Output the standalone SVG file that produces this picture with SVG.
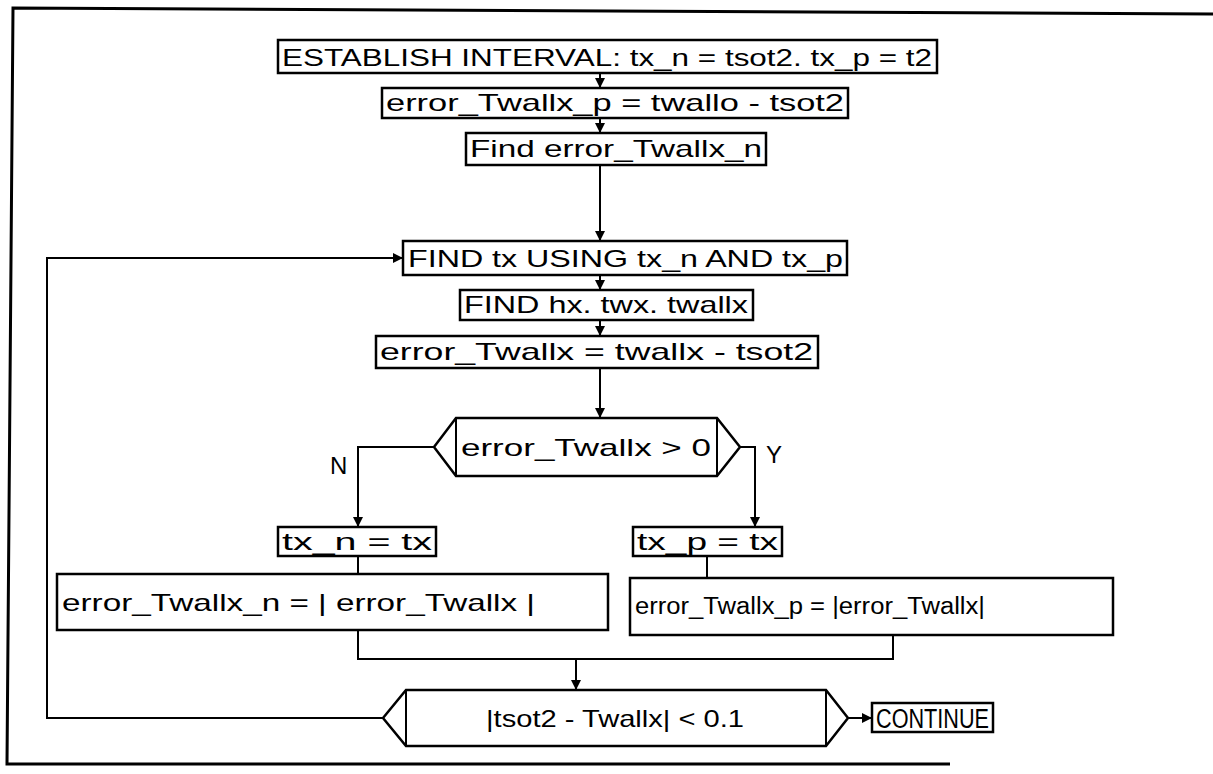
<svg xmlns="http://www.w3.org/2000/svg" width="1213" height="774" viewBox="0 0 1213 774">
<style>
.b{fill:#fff;stroke:#000;stroke-width:2.5}
.c{fill:none;stroke:#000;stroke-width:2}
.t{font-family:"Liberation Sans",Arial,sans-serif;font-size:24px;fill:#000}
.s{font-size:23px}
.l{font-size:27px}
</style>
<defs>
<marker id="a" viewBox="0 0 10 10" refX="10" refY="5" markerWidth="10" markerHeight="10" markerUnits="userSpaceOnUse" orient="auto"><path d="M0,0 L10,5 L0,10 Z" fill="#000"/></marker>
</defs>
<rect width="1213" height="774" fill="#fff"/>
<g id="frame"><polyline class="c" style="stroke-width:3" points="1213,14 13,8 7,764 950,764"/></g>
<g id="connectors">
<line class="c" x1="600" y1="73" x2="600" y2="88" marker-end="url(#a)"/>
<line class="c" x1="600" y1="118" x2="600" y2="133" marker-end="url(#a)"/>
<line class="c" x1="600" y1="165" x2="600" y2="241" marker-end="url(#a)"/>
<line class="c" x1="600" y1="275" x2="600" y2="290" marker-end="url(#a)"/>
<line class="c" x1="600" y1="320" x2="600" y2="336" marker-end="url(#a)"/>
<line class="c" x1="600" y1="368" x2="600" y2="418" marker-end="url(#a)"/>
<polyline class="c" points="434,447 358,447 358,527" marker-end="url(#a)"/>
<polyline class="c" points="740,447 755,447 755,527" marker-end="url(#a)"/>
<line class="c" x1="358" y1="556" x2="358" y2="574"/>
<line class="c" x1="707" y1="556" x2="707" y2="578"/>
<polyline class="c" points="358,630 358,659 893,659 893,635"/>
<line class="c" x1="576" y1="659" x2="576" y2="690" marker-end="url(#a)"/>
<polyline class="c" points="383,718 47,718 47,258 403,258" marker-end="url(#a)"/>
<line class="c" x1="848" y1="718" x2="872" y2="718" marker-end="url(#a)"/>
</g>
<g id="n1"><rect class="b" x="278" y="40" width="659" height="33"/><text class="t" x="282" y="66" textLength="650" lengthAdjust="spacingAndGlyphs">ESTABLISH INTERVAL: tx_n = tsot2. tx_p = t2</text></g>
<g id="n2"><rect class="b" x="382" y="88" width="466" height="30"/><text class="t" x="386" y="111" textLength="458" lengthAdjust="spacingAndGlyphs">error_Twallx_p = twallo - tsot2</text></g>
<g id="n3"><rect class="b" x="466" y="133" width="300" height="32"/><text class="t" x="470" y="157" textLength="292" lengthAdjust="spacingAndGlyphs">Find error_Twallx_n</text></g>
<g id="n4"><rect class="b" x="403" y="241" width="444" height="34"/><text class="t" x="408" y="267" textLength="435" lengthAdjust="spacingAndGlyphs">FIND tx USING tx_n AND tx_p</text></g>
<g id="n5"><rect class="b" x="460" y="290" width="293" height="30"/><text class="t" x="464" y="313" textLength="284" lengthAdjust="spacingAndGlyphs">FIND hx. twx. twallx</text></g>
<g id="n6"><rect class="b" x="376" y="336" width="442" height="32"/><text class="t" x="380" y="360" textLength="433" lengthAdjust="spacingAndGlyphs">error_Twallx = twallx - tsot2</text></g>
<g id="d1"><polygon class="b" points="434,447 456,418 717,418 740,447 717,476 456,476"/><line class="c" x1="456" y1="418" x2="456" y2="476"/><line class="c" x1="717" y1="418" x2="717" y2="476"/><text class="t" x="461" y="456" textLength="250" lengthAdjust="spacingAndGlyphs">error_Twallx &gt; 0</text></g>
<g id="lbl"><text class="t" x="330" y="474">N</text><text class="t" x="766" y="463">Y</text></g>
<g id="n7"><rect class="b" x="278" y="527" width="158" height="29"/><text class="t" x="282" y="550" textLength="150" lengthAdjust="spacingAndGlyphs">tx_n = tx</text></g>
<g id="n8"><rect class="b" x="633" y="527" width="149" height="29"/><text class="t" x="637" y="550" textLength="141" lengthAdjust="spacingAndGlyphs">tx_p = tx</text></g>
<g id="n9"><rect class="b" x="57" y="574" width="551" height="56"/><text class="t" x="62" y="611" textLength="473" lengthAdjust="spacingAndGlyphs">error_Twallx_n = | error_Twallx |</text></g>
<g id="n10"><rect class="b" x="630" y="578" width="483" height="57"/><text class="t s" x="635" y="614" textLength="350" lengthAdjust="spacingAndGlyphs">error_Twallx_p = |error_Twallx|</text></g>
<g id="d2"><polygon class="b" points="383,718 406,690 826,690 848,718 826,746 406,746"/><line class="c" x1="406" y1="690" x2="406" y2="746"/><line class="c" x1="826" y1="690" x2="826" y2="746"/><text class="t" x="486" y="727" textLength="258" lengthAdjust="spacingAndGlyphs">|tsot2 - Twallx| &lt; 0.1</text></g>
<g id="n11"><rect class="b" x="872" y="703" width="121" height="29"/><text class="t l" x="876" y="728" textLength="113" lengthAdjust="spacingAndGlyphs">CONTINUE</text></g>
</svg>
